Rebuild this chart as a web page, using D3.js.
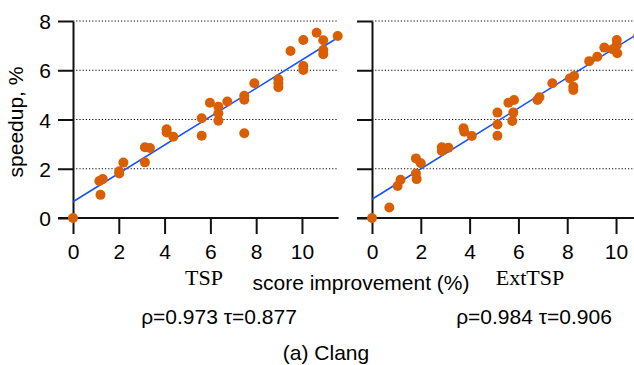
<!DOCTYPE html>
<html><head><meta charset="utf-8">
<script src="https://cdn.jsdelivr.net/npm/d3@7"></script>
<style>
html,body{margin:0;padding:0;background:#fff;}
svg{display:block;}
text{font-family:"Liberation Sans",Arial,Helvetica,sans-serif;fill:#000;}
.serif{font-family:"Liberation Serif","Times New Roman",serif;}
</style></head>
<body>
<svg id="chart" width="634" height="365"></svg>
<script>
// TSP panel: score improvement (%) vs speedup (%)
const tspX = [0,1.2,1.15,1.3,2.02,2.02,2.2,3.14,3.14,3.36,4.09,4.09,4.38,5.62,5.62,5.98,6.35,6.35,6.35,6.74,7.48,7.48,7.48,7.92,8.97,8.97,8.97,10.06,10.06,9.5,10.06,10.64,10.93,10.93,10.93,11.56];
const tspY = [0,0.94,1.5,1.58,1.81,1.9,2.25,2.26,2.87,2.84,3.6,3.47,3.3,3.34,4.05,4.68,4.52,4.25,3.95,4.73,4.96,4.8,3.44,5.47,5.63,5.47,5.31,6.17,6.01,6.78,7.23,7.52,7.22,6.82,6.65,7.39];
// ExtTSP panel
const extX = [0,0.71,1.05,1.17,1.8,2.0,1.8,1.83,2.86,2.86,3.13,3.75,3.78,4.09,5.14,5.14,5.14,5.59,5.82,5.79,5.75,6.78,6.86,7.39,8.11,8.28,8.25,8.25,8.9,9.23,9.52,9.86,10.03,10.03,10.05,10.9];
const extY = [0,0.43,1.3,1.55,2.42,2.22,1.81,1.58,2.87,2.72,2.85,3.64,3.5,3.33,3.34,3.8,4.28,4.68,4.79,4.28,3.94,4.79,4.9,5.47,5.67,5.77,5.33,5.2,6.37,6.55,6.92,6.85,7.23,7.03,6.69,7.38];
// linear fits [intercept, slope]
const tspFit = [0.66, 0.576];
const extFit = [0.76, 0.617];
const xTicks = [0,2,4,6,8,10];
const yTicks = [0,2,4,6,8];
const gridTicks = [2,4,6,8];
const panelNames = ["TSP","ExtTSP"];
const corrLabels = ["ρ=0.973 τ=0.877","ρ=0.984 τ=0.906"];

const svg = d3.select("#chart");
const dotColor = "#d95f02", lineColor = "#1750ff";
const y = d3.scaleLinear().domain([0,8]).range([218,21]);

const panels = [
  {xs:tspX, ys:tspY, fit:tspFit, x:d3.scaleLinear().domain([0,11.6]).range([73,338.6]), labels:true, name:panelNames[0], nameX:204, corr:corrLabels[0], corrX:219},
  {xs:extX, ys:extY, fit:extFit, x:d3.scaleLinear().domain([0,10.9]).range([372,638]), labels:false, name:panelNames[1], nameX:530, corr:corrLabels[1], corrX:534}
];

panels.forEach(p => {
  const g = svg.append("g");
  const [x0,x1] = p.x.range();
  // gridlines
  g.selectAll(".grid").data(gridTicks).join("line")
    .attr("x1", x0).attr("x2", x1).attr("y1", d=>y(d)).attr("y2", d=>y(d))
    .attr("stroke","#000").attr("stroke-width",1).attr("stroke-dasharray","1.2,2");
  // y axis
  const ya = d3.axisLeft(y).tickValues(yTicks).tickSize(15).tickSizeOuter(0)
    .tickFormat(p.labels ? d3.format("d") : "");
  const yg = g.append("g").attr("transform",`translate(${x0},0)`).call(ya);
  yg.select(".domain").attr("stroke","#111").attr("stroke-width",2);
  yg.selectAll(".tick line").attr("stroke","#111").attr("stroke-width",2);
  yg.selectAll(".tick text").attr("x",-22).attr("dy","0.36em").style("font-size","21px").style("font-family","Liberation Sans, Arial, sans-serif");
  // x axis
  const xa = d3.axisBottom(p.x).tickValues(xTicks).tickSize(16).tickSizeOuter(0).tickFormat(d3.format("d"));
  const xg = g.append("g").attr("transform",`translate(0,${y(0)})`).call(xa);
  xg.select(".domain").attr("stroke","#111").attr("stroke-width",2).attr("d",`M${x0-15},0H${x1}`);
  xg.selectAll(".tick line").attr("stroke","#111").attr("stroke-width",2);
  xg.selectAll(".tick text").attr("y",26).attr("dy","0.71em").style("font-size","21px").style("font-family","Liberation Sans, Arial, sans-serif");
  // fit line
  const dmax = p.x.domain()[1];
  const xEnd = d3.max(p.xs) > dmax ? dmax : Math.max(d3.max(p.xs), dmax*0.995);
  g.append("line")
    .attr("x1", p.x(0)).attr("y1", y(p.fit[0]))
    .attr("x2", p.x(xEnd)).attr("y2", y(p.fit[0]+p.fit[1]*xEnd))
    .attr("stroke", lineColor).attr("stroke-width",1.6);
  // dots
  g.selectAll("circle").data(p.xs.map((v,i)=>[v,p.ys[i]])).join("circle")
    .attr("cx", d=>p.x(d[0])).attr("cy", d=>y(d[1])).attr("r",5)
    .attr("fill", dotColor);
  // panel name
  svg.append("text").attr("class","serif").attr("x",p.nameX).attr("y",285)
    .attr("text-anchor","middle").style("font-size","22px").text(p.name);
  svg.append("text").attr("x",p.corrX).attr("y",324)
    .attr("text-anchor","middle").style("font-size","21px").text(p.corr);
});

svg.append("text").attr("x",361).attr("y",290).attr("text-anchor","middle")
  .style("font-size","21px").text("score improvement (%)");
svg.append("text").attr("transform","translate(23,122) rotate(-90)").attr("text-anchor","middle")
  .style("font-size","21px").text("speedup, %");
svg.append("text").attr("x",326).attr("y",360).attr("text-anchor","middle")
  .style("font-size","21px").text("(a) Clang");
</script>
</body></html>
